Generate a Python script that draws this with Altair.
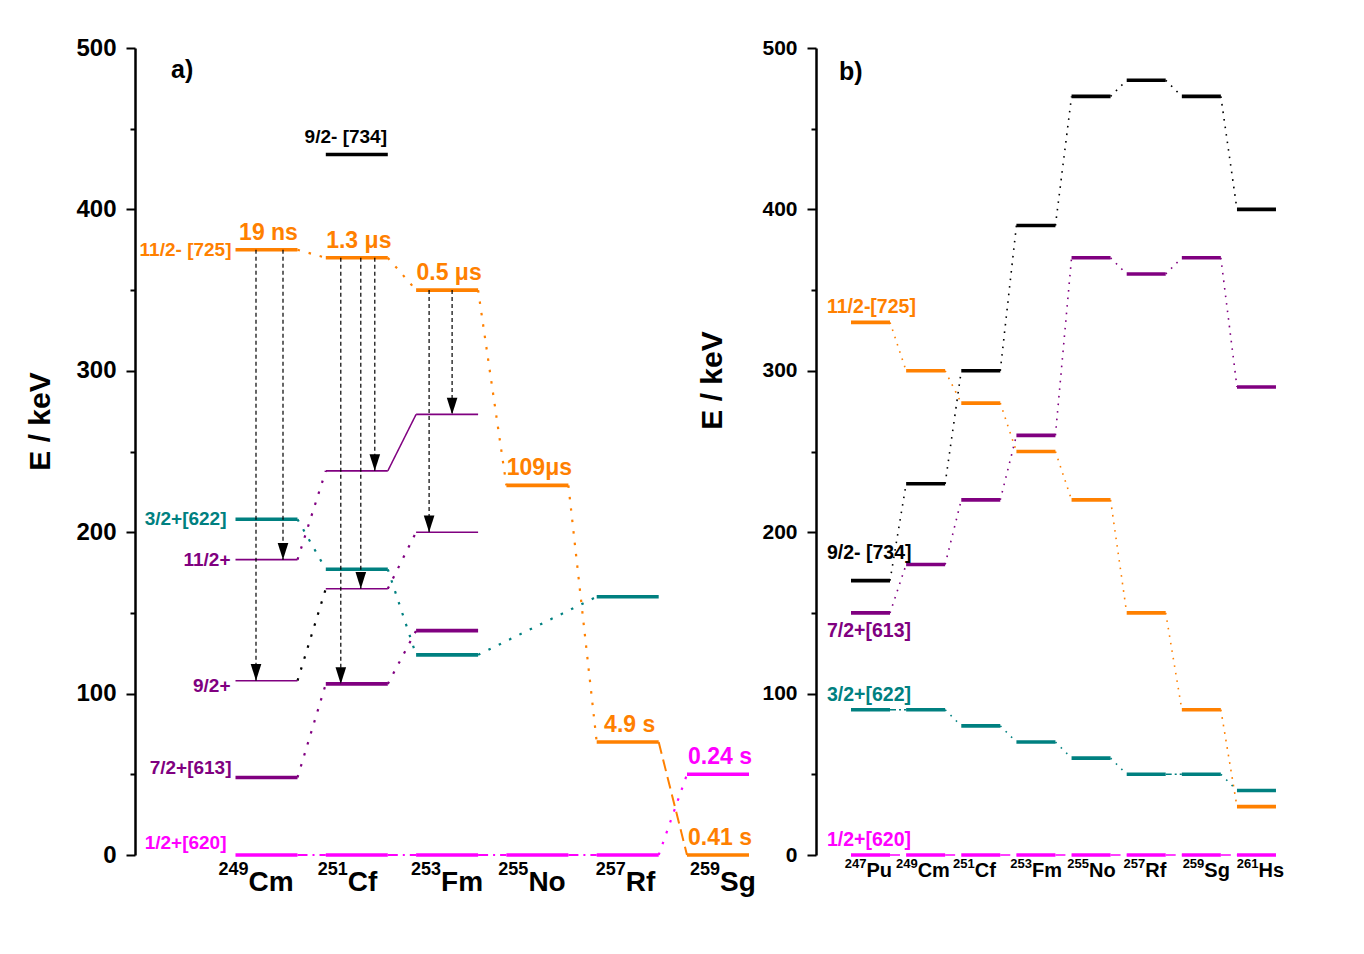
import altair as alt
import pandas as pd

FONT = "Liberation Sans"

# ------------------------------------------------------------------ data (a)
A_MASS = ["249", "251", "253", "255", "257", "259"]
A_SYMB = ["Cm", "Cf", "Fm", "No", "Rf", "Sg"]

A_LVL_NUC = [0, 0, 0, 0, 0, 0, 1, 1, 1, 1, 1, 1, 1, 2, 2, 2, 2, 2, 2, 3, 3, 4, 4, 4, 5, 5]
A_LVL_E = [375, 208, 183, 108, 48, 0, 434, 370, 238, 177, 165, 106, 0,
           350, 273, 200, 139, 124, 0, 229, 0, 160, 70, 0, 50, 0]
A_LVL_FAM = ["725", "622", "613", "613", "613", "620",
             "734", "725", "613", "622", "613", "613", "620",
             "725", "613", "613", "613", "622", "620",
             "725", "620", "622", "725", "620", "620", "725"]
A_LVL_KIND = ["band", "band", "rot", "rot", "band", "band",
              "band", "band", "rot", "band", "rot", "band", "band",
              "band", "rot", "rot", "band", "band", "band",
              "band", "band", "band", "band", "band", "band", "band"]

A_CON_FROM_NUC = [0, 1, 2, 3, 4, 0, 1, 2, 0, 1, 1, 0, 1, 0, 0, 1, 2, 3, 4]
A_CON_FROM_E = [375, 370, 350, 229, 70, 208, 177, 124, 183, 238, 165, 48, 106, 108, 0, 0, 0, 0, 0]
A_CON_TO_NUC = [1, 2, 3, 4, 5, 1, 2, 4, 1, 2, 2, 1, 2, 1, 1, 2, 3, 4, 5]
A_CON_TO_E = [370, 350, 229, 70, 0, 177, 124, 160, 238, 273, 200, 106, 139, 165, 0, 0, 0, 0, 50]
A_CON_FAM = ["725"] * 5 + ["622"] * 3 + ["613"] * 5 + ["734"] + ["620"] * 5
A_CON_STYLE = ["dot", "dot", "dot", "dot", "dash", "dot", "dot", "dot",
               "dot", "solid", "dot", "dot", "dot", "dot",
               "dashdot", "dashdot", "dashdot", "dashdot", "dot"]

A_ARR_NUC = [0, 0, 1, 1, 1, 2, 2]
A_ARR_FROM = [375, 375, 370, 370, 370, 350, 350]
A_ARR_TO = [108, 183, 106, 165, 238, 200, 273]

A_HL_TEXT = ["19 ns", "1.3 μs", "0.5 μs", "109μs", "4.9 s", "0.24 s", "0.41 s"]
A_HL_NUC = [0, 1, 2, 3, 4, 5, 5]
A_HL_E = [375, 370, 350, 229, 70, 50, 0]
A_HL_FAM = ["725", "725", "725", "725", "725", "620", "725"]

A_ORB_TEXT = ["11/2- [725]", "3/2+[622]", "11/2+", "9/2+", "7/2+[613]", "1/2+[620]", "9/2- [734]"]
A_ORB_NUC = [0, 0, 0, 0, 0, 0, 1]
A_ORB_E = [375, 208, 183, 108, 48, 0, 434]
A_ORB_FAM = ["725", "622", "613", "613", "613", "620", "734"]

# ------------------------------------------------------------------ data (b)
B_MASS = ["247", "249", "251", "253", "255", "257", "259", "261"]
B_SYMB = ["Pu", "Cm", "Cf", "Fm", "No", "Rf", "Sg", "Hs"]
B_E_734 = [170, 230, 300, 390, 470, 480, 470, 400]
B_E_613 = [150, 180, 220, 260, 370, 360, 370, 290]
B_E_725 = [330, 300, 280, 250, 220, 150, 90, 30]
B_E_622 = [90, 90, 80, 70, 60, 50, 50, 40]
B_E_620 = [0, 0, 0, 0, 0, 0, 0, 0]
B_ORB_TEXT = ["11/2-[725]", "9/2- [734]", "7/2+[613]", "3/2+[622]", "1/2+[620]"]
B_ORB_FAM = ["725", "734", "613", "622", "620"]

PANEL_TAGS = ["a)", "b)"]

# ------------------------------------------------------------------ style / layout
FAMS = ["725", "734", "613", "622", "620"]
COLORS = ["#FF8000", "#000000", "#800080", "#008080", "#FF00FF"]
H = 807
PX_PER_KEV = H / 500
A_W, B_W = 640, 482
A_PITCH, B_PITCH = 90.3, 55.14
A_X0 = -131.5 / A_PITCH
B_X0 = -54.5 / B_PITCH
A_HALF, B_HALF = 31 / A_PITCH, 19.5 / B_PITCH

A_ARR_DX = [-10.5, 16.5, -16, 4, 18, -18, 5]
A_ORB_DX = [-4, -9, -5, -5, -4, -9, 0]
A_ORB_DY = [0, 0, 0, 5, -10, -12, -18]
A_LAB_SHIFT = [-18, -9, -6, -9, -2, 2]
B_LAB_SHIFT = [-4, -8, -6, -4, -2, -1, 3, 2]
B_ORB_DY = [-15, -28, 18, -15, -15]
B_ORB_DX = -24

DASH_A = {"dot": ([2.5, 9], 2.2), "dash": ([12, 6], 2), "dashdot": ([10, 5, 2, 5], 2), "solid": ([1, 0], 1.5)}
DASH_B = {"dot": ([1.6, 6], 1.6), "dash": ([10, 6], 1.6), "dashdot": ([6, 3, 2, 3], 1.6)}

cscale = alt.Scale(domain=FAMS, range=COLORS)
yscale = alt.Scale(domain=[0, 500], nice=False, zero=False)


def y_axis(label_size, label_pad, title_pad, title_y):
    return alt.Axis(
        values=list(range(0, 501, 50)),
        labelExpr="datum.value % 100 === 0 ? datum.label : ''",
        tickSize={"condition": {"test": "datum.value % 100 === 0", "value": 9}, "value": 5},
        tickWidth=2, tickColor="black", domainWidth=2.5, domainColor="black",
        grid=False, labelFont=FONT, labelFontWeight="bold", labelFontSize=label_size,
        labelColor="black", labelPadding=label_pad,
        title="E / keV", titleFont=FONT, titleFontWeight="bold", titleFontSize=30,
        titleColor="black", titlePadding=title_pad, titleY=title_y,
    )


def enc_x(f, xs):
    return alt.X(f, type="quantitative", scale=xs, axis=None)


def enc_y(f, ax):
    return alt.Y(f, type="quantitative", scale=yscale, axis=ax)


def color():
    return alt.Color("fam:N", scale=cscale, legend=None)


def build_panel(lv, cn, dash, xs, ax, texts, tag, tag_dx, tag_dy, width, half, pitch,
                lab_df, sup_size, sym_size, sup_dy, sym_dy, band_w, rot_w):
    lv = lv.copy()
    lv["x"] = lv["nuc"] - half
    lv["x2"] = lv["nuc"] + half
    cn = cn.copy()
    cn["xa"] = cn["fn"] + half
    cn["xb"] = cn["tn"] - half
    layers = []
    for style, (sd, sw) in dash.items():
        sub = cn[cn["style"] == style]
        if len(sub) == 0:
            continue
        layers.append(alt.Chart(sub).mark_rule(strokeDash=sd, strokeWidth=sw).encode(
            x=enc_x("xa", xs), x2="xb", y=enc_y("Ea", ax), y2="Eb", color=color()))
    layers.append(alt.Chart(lv).mark_rule(strokeCap="butt").encode(
        x=enc_x("x", xs), x2="x2", y=enc_y("E", ax), color=color(),
        strokeWidth=alt.StrokeWidth("kind:N", scale=alt.Scale(domain=["band", "rot"], range=[band_w, rot_w]),
                                    legend=None)))
    layers.extend(texts)
    lab = lab_df.copy()
    lab["x"] = lab["nuc"] + lab["shift"] / pitch
    lab["E"] = 0
    layers.append(alt.Chart(lab).mark_text(font=FONT, fontWeight="bold", fontSize=sup_size, align="right",
                                           baseline="alphabetic", dy=sup_dy, color="black").encode(
        x=enc_x("x", xs), y=enc_y("E", ax), text="mass:N"))
    layers.append(alt.Chart(lab).mark_text(font=FONT, fontWeight="bold", fontSize=sym_size, align="left",
                                           baseline="alphabetic", dy=sym_dy, color="black").encode(
        x=enc_x("x", xs), y=enc_y("E", ax), text="symb:N"))
    layers.append(alt.Chart(pd.DataFrame({"t": [tag]})).mark_text(
        font=FONT, fontWeight="bold", fontSize=25, align="left", baseline="alphabetic", color="black").encode(
        x=alt.value(tag_dx), y=alt.value(tag_dy), text="t:N"))
    return alt.layer(*layers).properties(width=width, height=H)


# ------------------------------------------------------------------ panel a
xs_a = alt.Scale(domain=[A_X0, A_X0 + A_W / A_PITCH], nice=False, zero=False)
ax_a = y_axis(24, 10, 20, 373)

lv_a = pd.DataFrame({"nuc": A_LVL_NUC, "E": A_LVL_E, "fam": A_LVL_FAM, "kind": A_LVL_KIND})
cn_a = pd.DataFrame({"fn": A_CON_FROM_NUC, "Ea": A_CON_FROM_E, "tn": A_CON_TO_NUC, "Eb": A_CON_TO_E,
                     "fam": A_CON_FAM, "style": A_CON_STYLE})
arr = pd.DataFrame({"nuc": A_ARR_NUC, "E0": A_ARR_FROM, "E1": A_ARR_TO, "dx": A_ARR_DX})
arr["x"] = arr["nuc"] + arr["dx"] / A_PITCH
arrow_rules = alt.Chart(arr).mark_rule(strokeDash=[4, 3], strokeWidth=1.2, color="black").encode(
    x=enc_x("x", xs_a), y=enc_y("E0", ax_a), y2="E1")
arrow_heads = alt.Chart(arr).mark_point(shape="M-0.32,-1L0.32,-1L0,0Z", filled=True, size=1100,
                                        color="black", opacity=1, strokeWidth=0).encode(
    x=enc_x("x", xs_a), y=enc_y("E1", ax_a))

hl = pd.DataFrame({"t": A_HL_TEXT, "nuc": A_HL_NUC, "E": A_HL_E, "fam": A_HL_FAM})
hl["x"] = hl["nuc"] + 2 / A_PITCH
hl["y"] = hl["E"] + 17 / PX_PER_KEV
hl_text = alt.Chart(hl).mark_text(font=FONT, fontWeight="bold", fontSize=23, align="center",
                                  baseline="middle").encode(
    x=enc_x("x", xs_a), y=enc_y("y", ax_a), text="t:N", color=color())

orb = pd.DataFrame({"t": A_ORB_TEXT, "nuc": A_ORB_NUC, "E": A_ORB_E, "fam": A_ORB_FAM,
                    "dx": A_ORB_DX, "dy": A_ORB_DY})
orb["y"] = orb["E"] - orb["dy"] / PX_PER_KEV
orb_left = orb.iloc[:6].copy()
orb_left["x"] = orb_left["nuc"] - A_HALF + orb_left["dx"] / A_PITCH
orb_top = orb.iloc[6:].copy()
orb_top["x"] = orb_top["nuc"] - 11 / A_PITCH
orb_text = alt.Chart(orb_left).mark_text(font=FONT, fontWeight="bold", fontSize=19, align="right",
                                         baseline="middle").encode(
    x=enc_x("x", xs_a), y=enc_y("y", ax_a), text="t:N", color=color())
orb_text2 = alt.Chart(orb_top).mark_text(font=FONT, fontWeight="bold", fontSize=19, align="center",
                                         baseline="middle").encode(
    x=enc_x("x", xs_a), y=enc_y("y", ax_a), text="t:N", color=color())

lab_a = pd.DataFrame({"nuc": list(range(len(A_MASS))), "mass": A_MASS, "symb": A_SYMB, "shift": A_LAB_SHIFT})

panel_a = build_panel(lv_a, cn_a, DASH_A, xs_a, ax_a,
                      [arrow_rules, arrow_heads, hl_text, orb_text, orb_text2],
                      PANEL_TAGS[0], 36, 30, A_W, A_HALF, A_PITCH, lab_a, 18, 28, 20, 36, 3.6, 1.6)

# ------------------------------------------------------------------ panel b
xs_b = alt.Scale(domain=[B_X0, B_X0 + B_W / B_PITCH], nice=False, zero=False)
ax_b = y_axis(21, 10, 34, 332)

series_b = {"734": B_E_734, "613": B_E_613, "725": B_E_725, "622": B_E_622, "620": B_E_620}
rows, crow = [], []
for fam, vals in series_b.items():
    for i, e in enumerate(vals):
        rows.append({"nuc": i, "E": e, "fam": fam, "kind": "band"})
        if i + 1 < len(vals):
            e2 = vals[i + 1]
            st = "dash" if fam == "620" else ("dashdot" if e2 == e else "dot")
            crow.append({"fn": i, "Ea": e, "tn": i + 1, "Eb": e2, "fam": fam, "style": st})
lv_b = pd.DataFrame(rows)
cn_b = pd.DataFrame(crow)

orb_b = pd.DataFrame({"t": B_ORB_TEXT, "fam": B_ORB_FAM, "dy": B_ORB_DY})
orb_b["E"] = [series_b[f][0] for f in B_ORB_FAM]
orb_b["y"] = orb_b["E"] - orb_b["dy"] / PX_PER_KEV
orb_b["x"] = 0 - B_HALF + B_ORB_DX / B_PITCH
orb_b_text = alt.Chart(orb_b).mark_text(font=FONT, fontWeight="bold", fontSize=19.5, align="left",
                                        baseline="middle").encode(
    x=enc_x("x", xs_b), y=enc_y("y", ax_b), text="t:N", color=color())

lab_b = pd.DataFrame({"nuc": list(range(len(B_MASS))), "mass": B_MASS, "symb": B_SYMB, "shift": B_LAB_SHIFT})

panel_b = build_panel(lv_b, cn_b, DASH_B, xs_b, ax_b, [orb_b_text],
                      PANEL_TAGS[1], 23, 32, B_W, B_HALF, B_PITCH, lab_b, 13, 20, 13, 22, 3, 3)

chart = alt.hconcat(panel_a, panel_b, spacing=41, bounds="flush").properties(
    padding={"left": 17, "top": 28, "right": 10, "bottom": 10}
).configure_view(stroke=None)

chart.save("out.html", embed_options={"renderer": "svg", "actions": False})
